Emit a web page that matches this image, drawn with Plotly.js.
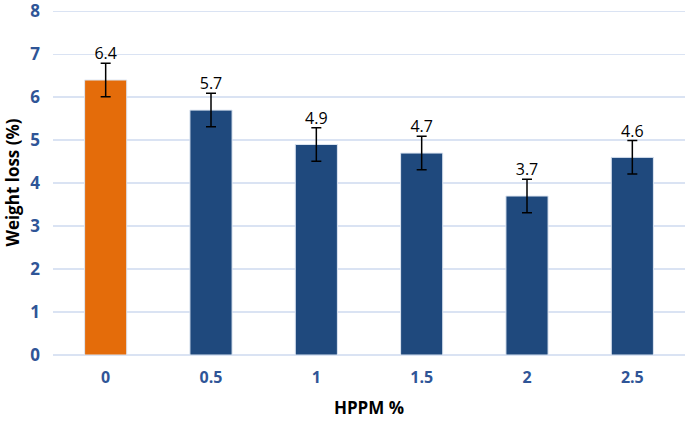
<!DOCTYPE html>
<html><head><meta charset="utf-8">
<script src="https://cdn.plot.ly/plotly-3.0.1.min.js"></script>
<style>html,body{margin:0;padding:0;background:#fff}#chart{width:685px;height:422px}</style>
</head><body><div id="chart"></div>
<script>
const categories = ["0", "0.5", "1", "1.5", "2", "2.5"];
const values = [6.4, 5.7, 4.9, 4.7, 3.7, 4.6];
const errors = [0.39, 0.39, 0.39, 0.39, 0.39, 0.39];
const labels = ["6.4", "5.7", "4.9", "4.7", "3.7", "4.6"];
const barColors = ["#E46C0A", "#1F497D", "#1F497D", "#1F497D", "#1F497D", "#1F497D"];
const yTicks = [0, 1, 2, 3, 4, 5, 6, 7, 8];

const bars = {
  type: "bar", x: categories, y: values,
  marker: {color: barColors, line: {color: "#dde6f2", width: 1}},
  error_y: {type: "data", array: errors, visible: true, color: "#000", thickness: 1.5, width: 5},
  hoverinfo: "none", showlegend: false
};
const txt = {
  type: "scatter", mode: "text", x: categories,
  y: values.map((v, i) => v + errors[i]),
  text: labels, textposition: "top center",
  textfont: {family: "Open Sans, sans-serif", size: 16, color: "#000"},
  cliponaxis: false, hoverinfo: "none", showlegend: false
};
const layout = {
  width: 685, height: 422,
  margin: {l: 53, r: 0, t: 10, b: 67},
  paper_bgcolor: "#fff", plot_bgcolor: "#fff",
  bargap: 0.6,
  font: {family: "Open Sans, sans-serif"},
  xaxis: {
    type: "category", showgrid: false, zeroline: false, showline: false,
    tickfont: {family: "Open Sans, sans-serif", size: 16, color: "#2F5597", weight: "bold"},
    ticklabelstandoff: 11,
    title: {text: "HPPM %", font: {family: "Open Sans, sans-serif", size: 17, color: "#000", weight: "bold"}, standoff: 15}
  },
  yaxis: {
    range: [0, 8.03], tickvals: yTicks, ticktext: yTicks.map(String),
    ticklabeloverflow: "allow",
    showgrid: true, gridcolor: "#dae3f3", gridwidth: 1.5,
    zeroline: true, zerolinecolor: "#dae3f3", zerolinewidth: 1.5, showline: false,
    tickfont: {family: "Open Sans, sans-serif", size: 17, color: "#2F5597", weight: "bold"},
    ticklabelstandoff: 12,
    title: {text: "Weight loss (%)", font: {family: "Open Sans, sans-serif", size: 17, color: "#000", weight: "bold"}, standoff: 6}
  }
};
Plotly.newPlot("chart", [bars, txt], layout, {staticPlot: true, displayModeBar: false});
</script></body></html>
